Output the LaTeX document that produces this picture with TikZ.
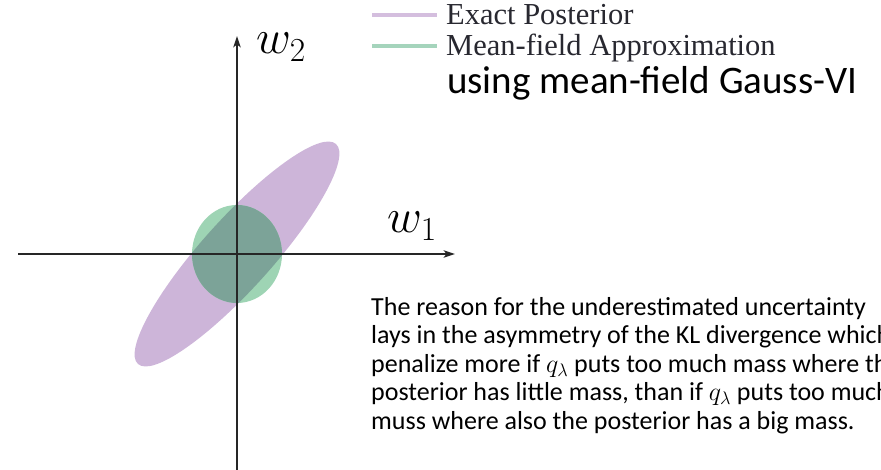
\documentclass[tikz,border=0pt]{standalone}
\usepackage{fix-cm}
\usepackage{amsmath,amssymb}
\usepackage{fontspec}
\usepackage{xcolor}
\usetikzlibrary{arrows.meta, positioning}
\newfontfamily\legendfont{Liberation Serif}
\newfontfamily\notefont{Carlito}
\definecolor{postpurple}{RGB}{205, 181, 217}
\definecolor{mfgreen}{RGB}{158, 212, 180}
\definecolor{overlapteal}{RGB}{124, 163, 152}
\definecolor{legpurple}{RGB}{212, 190, 222}
\definecolor{leggreen}{RGB}{165, 212, 188}
\definecolor{axisgray}{RGB}{38, 38, 38}
\definecolor{legtext}{RGB}{40, 40, 48}

\begin{document}
\begin{tikzpicture}[
    x=1pt, y=1pt,
    every node/.style={inner sep=0pt},
    axis/.style={-{Stealth[length=4mm, width=2.6mm, inset=1mm]}, line width=1.4pt, color=axisgray},
    legline/.style={line width=4pt},
    legtxt/.style={anchor=base west, font=\legendfont\fontsize{30.5}{34}\selectfont, text=legtext},
    axlabel/.style={anchor=base west, font=\fontsize{48}{52}\selectfont}
]
% Page frame
\useasboundingbox (0,0) rectangle (881,470);
\clip (0,0) rectangle (881,470);

% Origin and axis end points
\coordinate (o) at (237,216);
\coordinate (xstart) at (18,216);
\coordinate (xend) at (455,216);
\coordinate (ystart) at (237,-2);
\coordinate (yend) at (237,434);

% Exact posterior and mean-field approximation
\fill[postpurple, rotate around={48:(o)}] (o) ellipse [x radius=148, y radius=35];
\fill[mfgreen] (o) ellipse [x radius=45, y radius=49];
\begin{scope}
    \clip[rotate around={48:(o)}] (o) ellipse [x radius=148, y radius=35];
    \fill[overlapteal] (o) ellipse [x radius=45, y radius=49];
\end{scope}

% Axes
\draw[axis] (xstart) -- (xend);
\draw[axis] (ystart) -- (yend);
\node[axlabel] (w1) at (387,237) {$w_1$};
\node[axlabel] (w2) at (256,416) {$w_2$};

% Legend
\coordinate (legA) at (372,455);
\coordinate (legB) at (437,455);
\coordinate (legC) at (372,424);
\coordinate (legD) at (437,424);
\draw[legline, legpurple] (legA) -- (legB);
\draw[legline, leggreen] (legC) -- (legD);
\node[legtxt] (exact) at (446,445) {Exact Posterior};
\node[legtxt] (meanfield) at (446,414) {Mean-field Approximation};
\node[anchor=base west, font=\notefont\fontsize{39}{44}\selectfont] (gaussvi) at (447,376) {using mean-field Gauss-VI};

% Explanation
\node[anchor=north west, align=left, font=\notefont\fontsize{26}{28.5}\selectfont] (reason) at (371,173)
    {The reason for the underestimated uncertainty\\
     lays in the asymmetry of the KL divergence which\\
     penalize more if $q_\lambda$ puts too much mass where the\\
     posterior has little mass, than if $q_\lambda$ puts too much\\
     muss where also the posterior has a big mass.};
\end{tikzpicture}
\end{document}
